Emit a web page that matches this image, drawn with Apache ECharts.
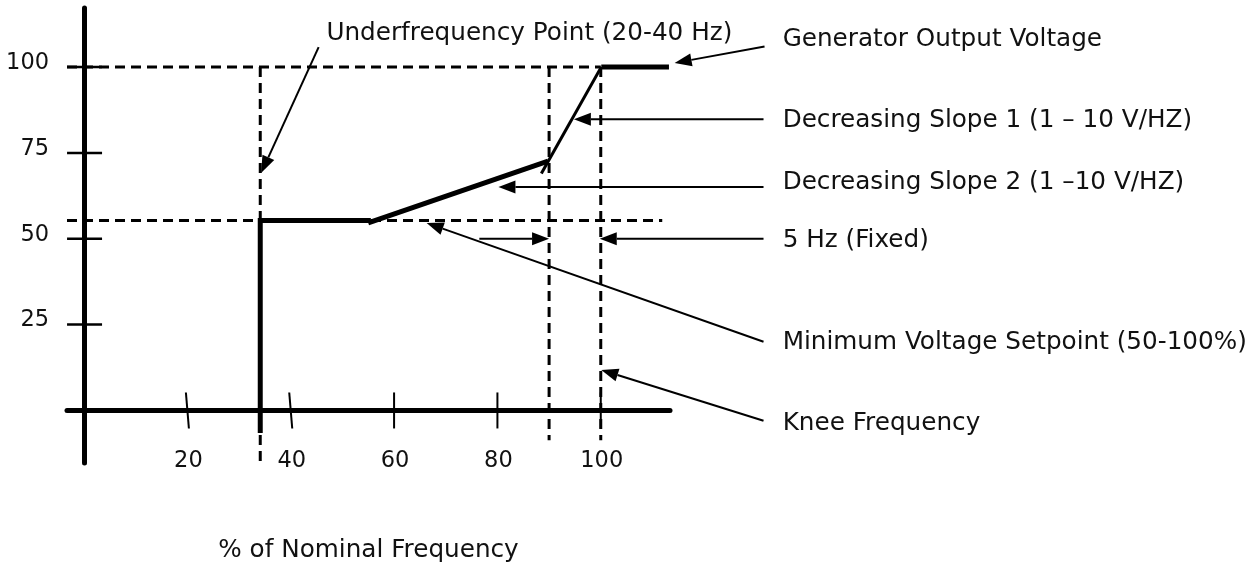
<!DOCTYPE html>
<html><head><meta charset="utf-8">
<script src="https://cdn.jsdelivr.net/npm/echarts@6/dist/echarts.min.js"></script>
<style>html,body{margin:0;padding:0;background:#fff}#c{width:1257px;height:565px}</style>
</head><body><div id="c"></div>
<script>
// ---- tick values / labels ----
const xTickValues = [20, 40, 60, 80, 100];
const yTickValues = [25, 50, 75, 100];
const xTickLabels = ['20', '40', '60', '80', '100'];
const yTickLabels = ['25', '50', '75', '100'];
const xAxisTitle = '% of Nominal Frequency';

// ---- response curve (x = % nominal frequency, y = % voltage) ----
const flatSegment   = [[34.1, -6.6], [34.1, 55.3], [55.5, 55.3]];
const slope2Segment = [[55.0, 54.6], [89.8, 72.6]];
const slope1Segment = [[88.5, 69.0], [100.1, 100]];
const ratedSegment  = [[100.1, 100], [113.2, 100]];

// ---- dashed guide lines ----
const guide100   = [[-3.3, 100], [100, 100]];
const guideMin   = [[-3.3, 55.3], [111.9, 55.3]];
const guideUnder = [[34.1, 100], [34.1, -15.2]];
const guideSlope = [[90, 100], [90, -8.7]];
const guideKnee  = [[100, 100], [100, -8.7]];

// ---- annotation arrows: [fromX, fromY, toX, toY] ----
const annotationArrows = [
  [45.4, 105.8, 34.3, 69.2],
  [131.7, 106.0, 114.3, 101.2],
  [131.5, 84.8, 94.8, 84.8],
  [131.5, 65.1, 80.2, 65.1],
  [76.5, 50, 90, 50],
  [131.5, 50, 99.8, 50],
  [131.5, 20.0, 66.3, 54.6],
  [131.5, -3.0, 100.1, 11.8]
];
// ---- annotation labels and their anchor points ----
const annotationLabels = [
  'Underfrequency Point (20-40 Hz)',
  'Generator Output Voltage',
  'Decreasing Slope 1 (1 \u2013 10 V/HZ)',
  'Decreasing Slope 2 (1 \u201310 V/HZ)',
  '5 Hz (Fixed)',
  'Minimum Voltage Setpoint (50-100%)',
  'Knee Frequency'
];
const labelAnchors = [
  [46.9, 109.8], [135.2, 108.0], [135.2, 84.4], [135.2, 66.5],
  [135.2, 49.5], [135.2, 19.9], [135.2, -3.8]
];

const FONT = '"DejaVu Sans", sans-serif';
const TEXT_COLOR = '#111';
const chart = echarts.init(document.getElementById('c'), null, {renderer: 'canvas'});

function lineSeries(data, width, dashed) {
  return {
    type: 'line', data: data, showSymbol: false, symbol: 'none', silent: true,
    lineStyle: {color: '#000', width: width, type: dashed ? [10, 6] : 'solid', cap: 'butt', join: 'miter'},
    z: dashed ? 2 : 3
  };
}

const option = {
  animation: false,
  backgroundColor: '#fff',
  grid: {left: 67, right: 587, top: 8, bottom: 102, containLabel: false, outerBoundsMode: 'none'},
  xAxis: {
    type: 'value', min: -3.3, max: 113.4,
    axisLine: {onZero: true, lineStyle: {color: '#000', width: 5}},
    axisTick: {show: false}, splitLine: {show: false}, axisLabel: {show: false},
    name: xAxisTitle, nameLocation: 'middle', nameGap: 75,
    nameTextStyle: {fontSize: 24.7, color: TEXT_COLOR, fontFamily: FONT}
  },
  yAxis: {
    type: 'value', min: -15.3, max: 117.2,
    axisLine: {onZero: true, lineStyle: {color: '#000', width: 5}},
    axisTick: {show: false}, splitLine: {show: false}, axisLabel: {show: false}
  },
  series: [
    lineSeries(guide100, 3, true),
    lineSeries(guideMin, 3, true),
    lineSeries(guideUnder, 3, true),
    lineSeries(guideSlope, 3, true),
    lineSeries(guideKnee, 3, true),
    lineSeries(flatSegment, 5, false),
    lineSeries(slope2Segment, 5, false),
    lineSeries(slope1Segment, 3, false),
    lineSeries(ratedSegment, 5, false),
    { // x tick marks crossing the axis, with labels
      type: 'custom', silent: true, z: 4, clip: false,
      data: xTickValues.map(v => [v, 0]),
      renderItem: function (params, api) {
        const p = api.coord([api.value(0), api.value(1)]);
        const lean = params.dataIndex < 2 ? 1.5 : 0;
        return {type: 'group', children: [
          {type: 'line', shape: {x1: p[0] - lean, y1: p[1] - 18, x2: p[0] + lean, y2: p[1] + 18},
           style: {stroke: '#000', lineWidth: 2}},
          {type: 'text', style: {text: xTickLabels[params.dataIndex], x: p[0] + 1, y: p[1] + 51,
           align: 'center', verticalAlign: 'middle', fontSize: 22.5, fontFamily: FONT, fill: TEXT_COLOR}}
        ]};
      }
    },
    { // y tick marks crossing the axis, with labels
      type: 'custom', silent: true, z: 4, clip: false,
      data: yTickValues.map(v => [0, v]),
      renderItem: function (params, api) {
        const p = api.coord([api.value(0), api.value(1)]);
        return {type: 'group', children: [
          {type: 'line', shape: {x1: p[0] - 17, y1: p[1], x2: p[0] + 18, y2: p[1]},
           style: {stroke: '#000', lineWidth: 2.5}},
          {type: 'text', style: {text: yTickLabels[params.dataIndex], x: p[0] - 35, y: p[1] - 4,
           align: 'right', verticalAlign: 'middle', fontSize: 22.5, fontFamily: FONT, fill: TEXT_COLOR}}
        ]};
      }
    },
    { // annotation arrows
      type: 'custom', silent: true, z: 5, clip: false,
      data: annotationArrows,
      encode: {x: [0, 2], y: [1, 3]},
      renderItem: function (params, api) {
        const a = api.coord([api.value(0), api.value(1)]);
        const b = api.coord([api.value(2), api.value(3)]);
        const dx = b[0] - a[0], dy = b[1] - a[1];
        const len = Math.hypot(dx, dy), ux = dx / len, uy = dy / len;
        const L = 17, W = 6.5;
        const base = [b[0] - ux * L, b[1] - uy * L];
        const p1 = [base[0] - uy * W, base[1] + ux * W];
        const p2 = [base[0] + uy * W, base[1] - ux * W];
        return {type: 'group', children: [
          {type: 'line', shape: {x1: a[0], y1: a[1], x2: base[0], y2: base[1]}, style: {stroke: '#000', lineWidth: 2}},
          {type: 'polygon', shape: {points: [b, p1, p2]}, style: {fill: '#000'}}
        ]};
      }
    },
    { // annotation texts
      type: 'custom', silent: true, z: 5, clip: false,
      data: labelAnchors,
      renderItem: function (params, api) {
        const p = api.coord([api.value(0), api.value(1)]);
        return {type: 'text', style: {
          text: annotationLabels[params.dataIndex], x: p[0], y: p[1],
          align: 'left', verticalAlign: 'middle',
          fontSize: 24.7, fontFamily: FONT, fill: TEXT_COLOR
        }};
      }
    }
  ]
};
chart.setOption(option);
</script>
</body></html>
